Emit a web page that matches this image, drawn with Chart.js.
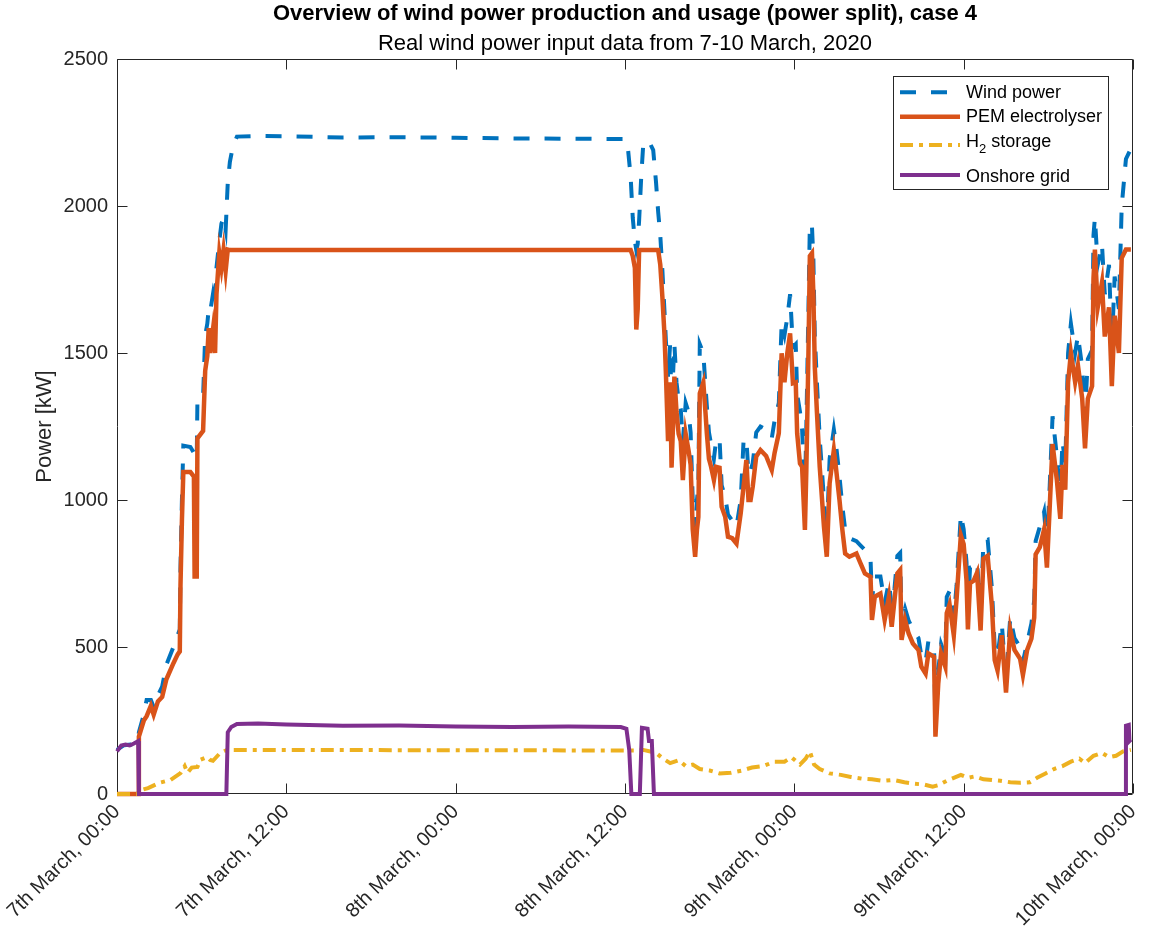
<!DOCTYPE html>
<html>
<head>
<meta charset="utf-8">
<script src="https://cdn.jsdelivr.net/npm/chart.js@4.4.1/dist/chart.umd.min.js"></script>
<style>
  html, body { margin: 0; padding: 0; background: #fff; }
</style>
</head>
<body>
<canvas id="grafica_potencia" width="1150" height="930"></canvas>
<script>
// etiquetas del eje x (cada 12 horas desde el 7 de marzo 00:00)
const tickHours = [0, 12, 24, 36, 48, 60, 72];
const tickLabels = ['7th March, 00:00', '7th March, 12:00', '8th March, 00:00', '8th March, 12:00',
                    '9th March, 00:00', '9th March, 12:00', '10th March, 00:00'];
const seriesNames = ['Wind power', 'PEM electrolyser', 'H2 storage', 'Onshore grid'];
const tituloTexto = 'Overview of wind power production and usage (power split), case 4';
const subtituloTexto = 'Real wind power input data from 7-10 March, 2020';

// horas para viento y electrolizador
const hours = [0, 0.5, 1.0, 1.5, 1.55, 1.9, 2.1, 2.4, 2.6, 2.9, 3.2, 3.5, 4.0, 4.3, 4.45, 4.5, 4.6, 4.7, 5.2, 5.45,
  5.5, 5.65, 5.7, 6.1, 6.25, 6.4, 6.5, 6.6, 6.8, 6.95, 7.05, 7.25, 7.4, 7.55, 7.7, 7.85, 8.0, 8.2, 8.5, 10,
  12, 16, 20, 24, 28, 32, 35.5, 36.0, 36.2, 36.4, 36.55, 36.7, 36.8, 36.9, 37.0, 37.15, 37.3, 37.7, 38.0, 38.2,
  38.35, 38.5, 38.65, 38.8, 38.9, 39.05, 39.2, 39.3, 39.4, 39.5, 39.65, 39.8, 39.95, 40.1, 40.3, 40.5, 40.65, 40.8, 40.97, 41.1,
  41.2, 41.3, 41.55, 41.7, 41.8, 41.95, 42.1, 42.3, 42.45, 42.7, 42.85, 43.1, 43.3, 43.6, 43.9, 44.2, 44.4, 44.6, 44.75, 44.9,
  45.05, 45.3, 45.6, 46.0, 46.4, 46.6, 46.9, 47.1, 47.3, 47.5, 47.7, 47.9, 48.1, 48.2, 48.4, 48.55, 48.75, 48.85, 49.0, 49.1,
  49.25, 49.35, 49.45, 49.6, 49.8, 50.1, 50.3, 50.5, 50.8, 50.95, 51.2, 51.4, 51.6, 51.9, 52.4, 52.7, 53.0, 53.4, 53.5, 53.7,
  54.1, 54.4, 54.7, 54.9, 55.1, 55.3, 55.5, 55.6, 55.85, 56.1, 56.4, 56.8, 57.0, 57.3, 57.5, 57.9, 58.0, 58.2, 58.4, 58.7,
  58.8, 59.0, 59.3, 59.5, 59.8, 60.0, 60.2, 60.3, 60.45, 60.7, 60.95, 61.2, 61.4, 61.7, 62.0, 62.2, 62.4, 62.7, 63.0, 63.3,
  63.6, 64.0, 64.2, 64.5, 64.8, 65.0, 65.1, 65.4, 65.7, 65.9, 66.1, 66.3, 66.6, 66.85, 67.0, 67.2, 67.4, 67.6, 67.9, 68.1,
  68.4, 68.6, 68.8, 69.1, 69.2, 69.3, 69.5, 69.8, 70.0, 70.3, 70.5, 70.7, 71.0, 71.2, 71.5, 71.85];

const windKW = [150, 166, 168, 180, 210, 270, 320, 320, 295, 335, 365, 440, 500, 540, 560, 770, 1000, 1185, 1180, 1160,
  1150, 1140, 1340, 1350, 1560, 1600, 1650, 1640, 1700, 1660, 1790, 1880, 1940, 1960, 1920, 2080, 2150, 2200, 2236, 2238,
  2237, 2233, 2234, 2232, 2230, 2229, 2228, 2228, 2200, 2100, 1960, 1880, 1850, 1870, 1950, 2100, 2215, 2220, 2190, 2080,
  1980, 1900, 1780, 1640, 1540, 1420, 1530, 1300, 1420, 1530, 1400, 1340, 1310, 1200, 1330, 1300, 1230, 1000, 900, 1000,
  1050, 1530, 1500, 1390, 1320, 1230, 1190, 1140, 1200, 1210, 1050, 1010, 950, 930, 910, 1000, 1200, 1210, 1090, 1100,
  1125, 1230, 1250, 1240, 1210, 1270, 1330, 1600, 1560, 1620, 1700, 1520, 1530, 1360, 1300, 1240, 1020, 1250, 1650, 1940,
  1930, 1820, 1560, 1400, 1210, 1000, 880, 1140, 1240, 1190, 1080, 980, 900, 870, 860, 845, 830, 800, 660, 740,
  740, 650, 720, 640, 700, 810, 820, 580, 630, 590, 560, 530, 470, 450, 520, 500, 230, 420, 510, 470,
  670, 690, 600, 710, 950, 900, 790, 610, 770, 775, 790, 610, 860, 865, 700, 500, 470, 580, 390, 600,
  530, 500, 450, 515, 580, 660, 860, 910, 960, 840, 1050, 1285, 1150, 1010, 1200, 1120, 1500, 1600, 1500, 1560,
  1450, 1290, 1480, 1510, 1900, 1960, 1800, 1870, 1700, 1800, 1520, 1760, 1650, 2000, 2160, 2195];

const pemKW = [0, 0, 0, 0, 195, 250, 265, 300, 270, 315, 330, 390, 445, 475, 485, 710, 930, 1095, 1095, 1080,
  740, 740, 1210, 1235, 1440, 1490, 1585, 1500, 1580, 1500, 1700, 1840, 1790, 1850, 1780, 1852, 1850, 1850, 1850, 1850,
  1850, 1850, 1850, 1850, 1850, 1850, 1850, 1850, 1850, 1850, 1830, 1790, 1580, 1650, 1850, 1850, 1850, 1850, 1850, 1850,
  1850, 1800, 1690, 1560, 1430, 1200, 1400, 1110, 1250, 1420, 1300, 1225, 1200, 1068, 1225, 1170, 1120, 900, 807, 900,
  943, 1363, 1400, 1300, 1227, 1140, 1113, 1068, 1113, 1110, 977, 943, 875, 870, 852, 955, 1045, 1136, 1000, 1000,
  1045, 1148, 1170, 1150, 1102, 1160, 1227, 1499, 1400, 1499, 1567, 1397, 1400, 1227, 1124, 1113, 898, 1100, 1500, 1830,
  1840, 1700, 1453, 1300, 1113, 909, 807, 1057, 1170, 1110, 1000, 900, 818, 807, 818, 784, 750, 739, 592, 671,
  682, 592, 671, 569, 660, 750, 762, 524, 592, 546, 512, 490, 433, 410, 478, 467, 195, 376, 478, 433,
  615, 645, 540, 665, 880, 850, 728, 560, 717, 725, 753, 556, 800, 810, 640, 455, 420, 540, 345, 560,
  490, 460, 405, 490, 528, 600, 815, 840, 900, 770, 978, 1190, 1070, 936, 1120, 1035, 1400, 1500, 1401, 1457,
  1345, 1176, 1345, 1387, 1753, 1852, 1655, 1739, 1556, 1655, 1387, 1627, 1500, 1823, 1852, 1852];

// almacenamiento de H2
const storageHours = [0, 1.5, 1.6, 2.2, 3.0, 3.8, 4.5, 4.8, 5.0, 5.3, 5.7, 5.9, 6.4, 6.6, 6.8, 7.3, 7.8, 8.1, 36.8, 37.3,
  38.2, 38.7, 39.2, 39.8, 40.3, 40.8, 41.3, 42.0, 42.7, 43.5, 44.3, 45.0, 45.8, 46.6, 47.3, 47.8, 48.4, 48.8, 49.1, 49.4,
  49.8, 50.5, 51.3, 52.0, 52.8, 53.5, 54.3, 55.0, 55.8, 56.5, 57.2, 57.8, 58.2, 58.8, 59.3, 59.8, 60.3, 60.8, 61.4, 62.0,
  62.6, 63.3, 64.0, 64.7, 65.2, 65.8, 66.4, 67.0, 67.6, 68.2, 68.6, 69.2, 69.8, 70.3, 70.8, 71.3, 71.85];
const storageKW = [0, 0, 12, 20, 38, 48, 71, 95, 72, 90, 92, 116, 126, 116, 113, 139, 150, 150, 148, 150,
  140, 120, 105, 115, 95, 100, 85, 80, 70, 72, 80, 90, 95, 110, 110, 125, 100, 120, 145, 100,
  85, 70, 65, 58, 52, 50, 45, 48, 40, 35, 32, 25, 30, 45, 55, 65, 55, 60, 50, 48,
  45, 40, 38, 40, 55, 70, 85, 95, 110, 120, 105, 130, 140, 125, 130, 145, 150];

// red terrestre
const gridHours = [0, 0.3, 0.6, 0.9, 1.2, 1.5, 1.55, 7.75, 7.85, 8.1, 8.5, 10, 12, 16, 20, 24, 28, 32, 35.7, 36.1,
  36.3, 36.45, 37.05, 37.2, 37.6, 37.7, 37.9, 38.05, 71.45, 71.5, 71.7, 71.75, 71.85];
const gridKW = [145, 165, 168, 165, 172, 180, 0, 0, 210, 228, 238, 240, 236, 232, 233, 230, 228, 230, 228, 222,
  150, 0, 0, 225, 222, 180, 180, 0, 0, 232, 235, 180, 185];

const colores = ['#0072BD', '#D95319', '#EDB120', '#7E2F8E'];
const guiones = [[16, 15], [], [13, 6, 4, 6], []];
const grosores = [4, 4.5, 4, 4];
const fuente = '"Liberation Sans", Arial, Helvetica, sans-serif';

function puntos(xs, ys) {
  return xs.map((h, i) => ({ x: h, y: ys[i] }));
}

Chart.defaults.font.family = fuente;
Chart.defaults.color = '#262626';

// marco, marcas hacia dentro, titulos y leyenda, estilo matlab
const ejesPlugin = {
  id: 'ejesMatlab',
  beforeDatasetsDraw(chart) {
    const { ctx, chartArea: a, scales } = chart;
    const largo = 10;
    ctx.save();
    ctx.strokeStyle = '#262626';
    ctx.lineWidth = 1;
    ctx.beginPath();
    const l = Math.round(a.left) + 0.5, r = Math.round(a.right) - 0.5;
    const t = Math.round(a.top) + 0.5, b = Math.round(a.bottom) - 0.5;
    ctx.rect(l, t, r - l, b - t);
    scales.x.ticks.forEach(tk => {
      const px = Math.round(scales.x.getPixelForValue(tk.value)) + 0.5;
      ctx.moveTo(px, b); ctx.lineTo(px, b - largo);
      ctx.moveTo(px, t); ctx.lineTo(px, t + largo);
    });
    scales.y.ticks.forEach(tk => {
      const py = Math.round(scales.y.getPixelForValue(tk.value)) + 0.5;
      ctx.moveTo(l, py); ctx.lineTo(l + largo, py);
      ctx.moveTo(r, py); ctx.lineTo(r - largo, py);
    });
    ctx.stroke();

    // titulo y subtitulo centrados sobre el area de la grafica
    const cx = (a.left + a.right) / 2;
    ctx.fillStyle = '#000';
    ctx.textAlign = 'center';
    ctx.textBaseline = 'middle';
    ctx.font = 'bold 22px ' + fuente;
    ctx.fillText(tituloTexto, cx, 14);
    ctx.font = '22px ' + fuente;
    ctx.fillText(subtituloTexto, cx, 44);
    ctx.restore();
  },
  afterDatasetsDraw(chart) {
    const { ctx, chartArea: a } = chart;
    const x0 = a.right - 240, y0 = a.top + 17, w = 215, h = 113;
    ctx.save();
    ctx.fillStyle = '#fff';
    ctx.fillRect(x0, y0, w, h);
    ctx.strokeStyle = '#262626';
    ctx.lineWidth = 1;
    ctx.strokeRect(Math.round(x0) + 0.5, Math.round(y0) + 0.5, w, h);
    const lineasY = [16.3, 40.7, 69, 99];
    const textosY = [17, 41.3, 65.7, 100.7];
    seriesNames.forEach((nombre, i) => {
      ctx.beginPath();
      ctx.strokeStyle = colores[i];
      ctx.lineWidth = grosores[i];
      ctx.setLineDash(guiones[i]);
      ctx.moveTo(x0 + 7, y0 + lineasY[i]);
      ctx.lineTo(x0 + 67, y0 + lineasY[i]);
      ctx.stroke();
      ctx.setLineDash([]);
      ctx.fillStyle = '#000';
      ctx.textBaseline = 'middle';
      ctx.textAlign = 'left';
      ctx.font = '18px ' + fuente;
      const tx = x0 + 73, ty = y0 + textosY[i];
      if (nombre.startsWith('H2')) {
        ctx.fillText('H', tx, ty);
        const wh = ctx.measureText('H').width;
        ctx.font = '13px ' + fuente;
        ctx.fillText('2', tx + wh, ty + 8);
        const w2 = ctx.measureText('2').width;
        ctx.font = '18px ' + fuente;
        ctx.fillText(' storage', tx + wh + w2, ty);
      } else {
        ctx.fillText(nombre, tx, ty);
      }
    });
    ctx.restore();
  }
};

const ctx = document.getElementById('grafica_potencia').getContext('2d');
const chartPotencia = new Chart(ctx, {
  type: 'line',
  data: {
    datasets: [
      { label: seriesNames[0], data: puntos(hours, windKW), order: 4 },
      { label: seriesNames[1], data: puntos(hours, pemKW), order: 3 },
      { label: seriesNames[2], data: puntos(storageHours, storageKW), order: 2 },
      { label: seriesNames[3], data: puntos(gridHours, gridKW), order: 1 }
    ].map((ds, i) => Object.assign(ds, {
      borderColor: colores[i],
      borderWidth: grosores[i],
      borderDash: guiones[i],
      pointRadius: 0,
      tension: 0,
      fill: false,
      clip: 6
    }))
  },
  options: {
    responsive: false,
    animation: false,
    devicePixelRatio: 1,
    layout: { padding: { top: 59, right: 17, bottom: 0, left: 0 } },
    plugins: {
      legend: { display: false },
      tooltip: { enabled: false },
      title: { display: false }
    },
    scales: {
      x: {
        type: 'linear',
        min: 0,
        max: 72,
        grid: { display: false, drawTicks: false },
        border: { display: false },
        afterBuildTicks: (scale) => { scale.ticks = tickHours.map(v => ({ value: v })); },
        ticks: {
          autoSkip: false,
          minRotation: 45,
          maxRotation: 45,
          padding: 6,
          font: { size: 20 },
          color: '#262626',
          callback: (value) => tickLabels[tickHours.indexOf(value)]
        },
        afterFit: (scale) => {
          scale.height = 136;
          scale.paddingLeft = 0;
          scale.paddingRight = 0;
        }
      },
      y: {
        min: 0,
        max: 2500,
        grid: { display: false, drawTicks: false },
        border: { display: false },
        ticks: {
          stepSize: 500,
          padding: 9,
          font: { size: 20 },
          color: '#262626',
          callback: (value) => String(value)
        },
        title: {
          display: true,
          text: 'Power [kW]',
          color: '#262626',
          font: { size: 22, lineHeight: 1.2 },
          padding: { top: 32, bottom: 0 }
        },
        afterFit: (scale) => {
          scale.width = 117;
          scale.paddingTop = 0;
          scale.paddingBottom = 0;
        }
      }
    }
  },
  plugins: [ejesPlugin]
});
</script>
</body>
</html>
